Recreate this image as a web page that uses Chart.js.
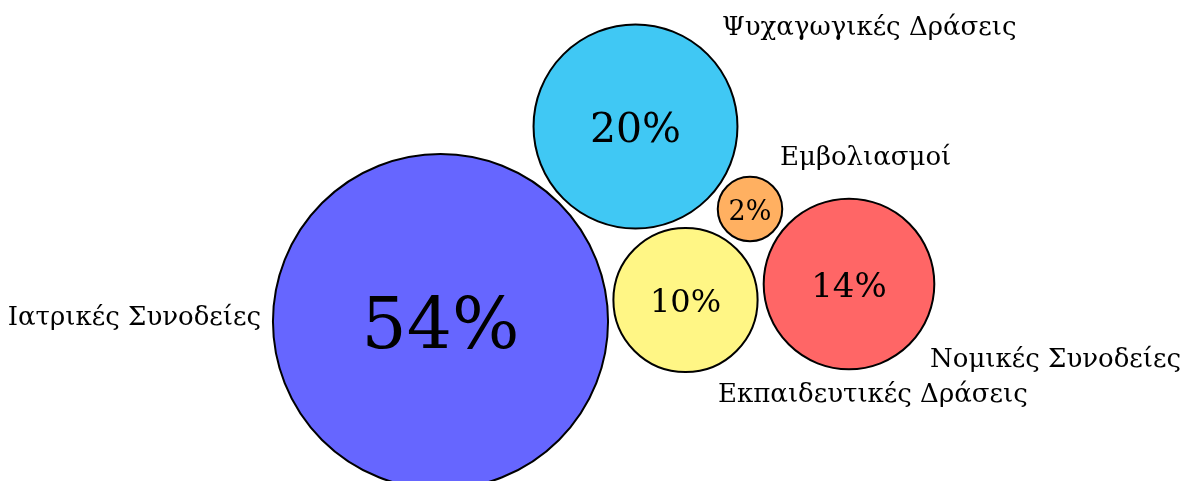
<!DOCTYPE html>
<html>
<head>
<meta charset="utf-8">
<script src="https://cdn.jsdelivr.net/npm/chart.js@4.4.1/dist/chart.umd.min.js"></script>
<style>
  html, body { margin: 0; padding: 0; background: #fff; }
  #wrap { width: 1185px; height: 481px; }
</style>
</head>
<body>
<div id="wrap"><canvas id="chart" width="1185" height="481"></canvas></div>
<script>
// data
const categories = ["Ιατρικές Συνοδείες", "Ψυχαγωγικές Δράσεις", "Εμβολιασμοί", "Εκπαιδευτικές Δράσεις", "Νομικές Συνοδείες"];
const percents = [54, 20, 2, 10, 14];
// packed layout position of each bubble (grid of 1185 x 481 units)
const bubbleX = [440.5, 635.5, 750, 685.5, 849];
const bubbleY = [321.5, 126.5, 209, 300, 284];

// styles
const colors = ["#6666FF", "#40C8F4", "#FFB061", "#FFF685", "#FF6666"];
const valueFontSizes = [71, 41, 27, 32, 34];
// label anchor relative to bubble centre: [dx, dy(baseline), align]
const labelPlace = [
  [-179.5, 3.5, "right"],
  [86.5, -91.5, "left"],
  [30, -44, "left"],
  [32.5, 102, "left"],
  [81, 83, "left"]
];
const FONT = '"DejaVu Serif", serif';
const radiusScale = 22.8; // px per sqrt(percent)

const bubbleLabels = {
  id: "bubbleLabels",
  afterDatasetsDraw(chart) {
    const ctx = chart.ctx;
    const meta = chart.getDatasetMeta(0);
    ctx.save();
    ctx.fillStyle = "#000";
    meta.data.forEach((el, i) => {
      // value text centred in the bubble
      ctx.font = valueFontSizes[i] + "px " + FONT;
      ctx.textAlign = "center";
      ctx.textBaseline = "alphabetic";
      const txt = percents[i] + "%";
      const m = ctx.measureText(txt);
      ctx.fillText(txt, el.x, el.y + m.actualBoundingBoxAscent / 2);
      // category label outside
      const p = labelPlace[i];
      ctx.font = "26px " + FONT;
      ctx.textAlign = p[2];
      ctx.fillText(categories[i], el.x + p[0], el.y + p[1]);
    });
    ctx.restore();
  }
};

new Chart(document.getElementById("chart"), {
  type: "bubble",
  data: {
    labels: categories,
    datasets: [{
      data: percents.map((v, i) => ({ x: bubbleX[i], y: bubbleY[i], r: radiusScale * Math.sqrt(v) })),
      backgroundColor: colors,
      borderColor: "#000",
      borderWidth: 2,
      clip: false
    }]
  },
  options: {
    responsive: false,
    animation: false,
    events: [],
    layout: { padding: 0, autoPadding: false },
    scales: {
      x: { type: "linear", min: 0, max: 1185, display: false },
      y: { type: "linear", min: 0, max: 481, reverse: true, display: false }
    },
    plugins: {
      legend: { display: false },
      tooltip: { enabled: false }
    }
  },
  plugins: [bubbleLabels]
});
</script>
</body>
</html>
